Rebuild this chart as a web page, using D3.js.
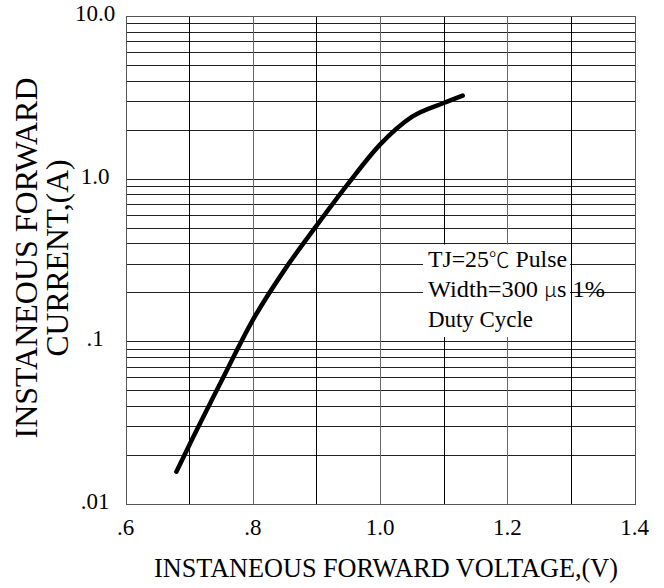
<!DOCTYPE html><html><meta charset="UTF-8">
<title>Forward characteristics</title>
<style>
  body { margin: 0; background: #fff; overflow: hidden; }
  .cjk { font-family: "Noto Sans CJK SC", "Liberation Serif", serif; font-weight: 300; font-size: 21px; }
</style>
<script src="https://cdn.jsdelivr.net/npm/d3@7"></script>
<svg width="664" height="588" font-family="Liberation Serif, Times New Roman, serif"></svg>
<script>

// curve
var voltage = [0.68, 0.70, 0.75, 0.80, 0.85, 0.90, 0.95, 1.00, 1.05, 1.10, 1.13];
var current = [0.0158, 0.0229, 0.0562, 0.135, 0.275, 0.513, 0.933, 1.62, 2.40, 2.92, 3.24];

var xTicks = [0.6, 0.8, 1.0, 1.2, 1.4],
    xTickLabels = [".6", ".8", "1.0", "1.2", "1.4"],
    xGrid = [0.6, 0.7, 0.8, 0.9, 1.0, 1.1, 1.2, 1.3, 1.4];
var yTicks = [10, 1, 0.1, 0.01],
    yTickLabels = ["10.0", "1.0", ".1", ".01"];

var svg = d3.select("svg");

var x = d3.scaleLinear().domain([0.6, 1.4]).range([125.5, 634.5]),
    y = d3.scaleLog().domain([0.01, 10]).range([504, 16]);

function px(v) { return Math.round(v) + 0.5; }

// horizontal grid (1..9 per decade)
svg.append("g").selectAll("line")
  .data(y.ticks())
  .enter().append("line")
    .attr("x1", x(0.6)).attr("x2", x(1.4))
    .attr("y1", d => px(y(d))).attr("y2", d => px(y(d)))
    .attr("stroke", "#222").attr("stroke-width", 1)
    .attr("shape-rendering", "crispEdges");

// vertical grid, labelled ones a bit lighter
svg.append("g").selectAll("line")
  .data(xGrid)
  .enter().append("line")
    .attr("x1", d => px(x(d))).attr("x2", d => px(x(d)))
    .attr("y1", y(10)).attr("y2", y(0.01))
    .attr("stroke", (d, i) => i % 2 ? "#000" : "#666").attr("stroke-width", 1)
    .attr("shape-rendering", "crispEdges");

// box edges
svg.append("rect")
  .attr("x", px(x(0.6))).attr("y", px(y(10)))
  .attr("width", px(x(1.4)) - px(x(0.6))).attr("height", px(y(0.01)) - px(y(10)))
  .attr("fill", "none").attr("stroke", "#555").attr("shape-rendering", "crispEdges");

// note background
svg.append("rect")
  .attr("x", 423).attr("y", 244.5).attr("width", 147).attr("height", 92.5)
  .attr("fill", "#fff");

var note = svg.append("g").attr("font-size", 24);
note.append("text").attr("x", 428).attr("y", 267).attr("textLength", 139).attr("lengthAdjust", "spacingAndGlyphs")
  .html('TJ=25<tspan class="cjk">℃</tspan> Pulse');
note.append("text").attr("x", 428).attr("y", 297).attr("textLength", 177).attr("lengthAdjust", "spacingAndGlyphs")
  .html('Width=300 <tspan class="cjk">μ</tspan>s 1%');
note.append("text").attr("x", 428).attr("y", 327).attr("textLength", 105).attr("lengthAdjust", "spacingAndGlyphs")
  .text("Duty Cycle");

// curve
var pts = voltage.map((v, i) => [v, current[i]]);
svg.append("path")
  .datum(pts)
  .attr("fill", "none")
  .attr("stroke", "#000")
  .attr("stroke-width", 4.5)
  .attr("stroke-linecap", "round")
  .attr("stroke-linejoin", "round")
  .attr("d", d3.line().x(d => x(d[0])).y(d => y(d[1])).curve(d3.curveMonotoneX));

// tick labels
svg.append("g").selectAll("text")
  .data(xTicks)
  .enter().append("text")
    .attr("x", d => x(d)).attr("y", 535)
    .attr("text-anchor", "middle").attr("font-size", 23)
    .text((d, i) => xTickLabels[i]);

svg.append("g").selectAll("text")
  .data(yTicks)
  .enter().append("text")
    .attr("x", 95).attr("y", d => y(d) + 5)
    .attr("text-anchor", "middle").attr("font-size", 23)
    .text((d, i) => yTickLabels[i]);

// axis titles
svg.append("text")
  .attr("x", 154).attr("y", 577).attr("font-size", 28)
  .attr("textLength", 464).attr("lengthAdjust", "spacingAndGlyphs")
  .text("INSTANEOUS FORWARD VOLTAGE,(V)");

var yt = svg.append("g").attr("transform", "translate(0,258) rotate(-90)");
yt.append("text")
  .attr("x", 0).attr("y", 37).attr("text-anchor", "middle").attr("font-size", 32)
  .attr("textLength", 361).attr("lengthAdjust", "spacingAndGlyphs")
  .text("INSTANEOUS FORWARD");
yt.append("text")
  .attr("x", 0).attr("y", 68).attr("text-anchor", "middle").attr("font-size", 32)
  .attr("textLength", 197).attr("lengthAdjust", "spacingAndGlyphs")
  .text("CURRENT,(A)");

</script>
</html>
